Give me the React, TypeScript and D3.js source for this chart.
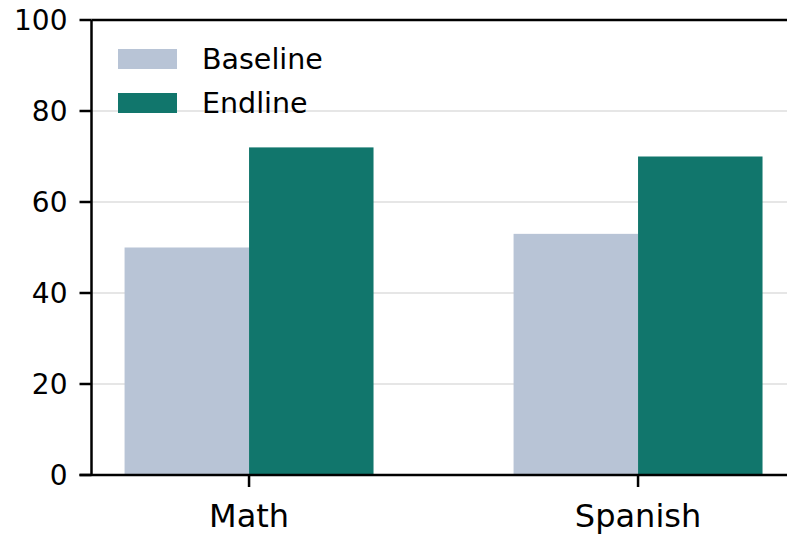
import React from "react";
import * as d3 from "d3";

const categories = ["Math", "Spanish"];
const seriesNames = ["Baseline", "Endline"];
const baselineValues = [50, 53];
const endlineValues = [72, 70];
const yTicks = [0, 20, 40, 60, 80, 100];
const gridTicks = [20, 40, 60, 80];
const colors = ["#b8c4d6", "#11766c"];

export default function App() {
  const W = 787, H = 536;
  const left = 91.5, bottom = 475, top = 20;
  const x = d3.scaleLinear().domain([-0.405, 1.405]).range([left, left + 1.81 * 389]);
  const y = d3.scaleLinear().domain([0, 100]).range([bottom, top]);
  const barW = 0.32;
  const series = [baselineValues, endlineValues];
  const font = "DejaVu Sans, sans-serif";
  const sw = 2.5;
  return (
    <svg width={W} height={H} style={{ position: "absolute", left: 0, top: 0, background: "#fff" }} fontFamily={font}>
      {gridTicks.map((t) => (
        <line key={t} x1={left} x2={W} y1={y(t)} y2={y(t)} stroke="#e6e6e6" strokeWidth={2} />
      ))}
      {series.map((vals, si) =>
        vals.map((v, ci) => {
          const x0 = x(ci + (si - 1) * barW);
          const x1 = x(ci + si * barW);
          return (
            <rect key={`${si}-${ci}`} x={x0} y={y(v)} width={x1 - x0} height={y(0) - y(v)} fill={colors[si]} />
          );
        })
      )}
      <line x1={left} x2={left} y1={top} y2={bottom} stroke="#000" strokeWidth={sw} />
      <line x1={left - 12} x2={W} y1={bottom} y2={bottom} stroke="#000" strokeWidth={sw} />
      <line x1={left} x2={W} y1={top} y2={top} stroke="#000" strokeWidth={sw} />
      {yTicks.map((t) => (
        <g key={t}>
          <line x1={left - 12} x2={left} y1={y(t)} y2={y(t)} stroke="#000" strokeWidth={sw} />
          <text x={67.5} y={y(t)} dy="0.36em" textAnchor="end" fontSize={28} fill="#000">{t}</text>
        </g>
      ))}
      {categories.map((c, i) => (
        <g key={c}>
          <line x1={x(i)} x2={x(i)} y1={bottom} y2={bottom + 12} stroke="#000" strokeWidth={sw} />
          <text x={x(i)} y={527} textAnchor="middle" fontSize={32} fill="#000">{c}</text>
        </g>
      ))}
      {seriesNames.map((s, i) => (
        <g key={s}>
          <rect x={118} y={49 + i * 44} width={59} height={20} fill={colors[i]} />
          <text x={202} y={69 + i * 43.5} fontSize={28.5} fill="#000">{s}</text>
        </g>
      ))}
    </svg>
  );
}
